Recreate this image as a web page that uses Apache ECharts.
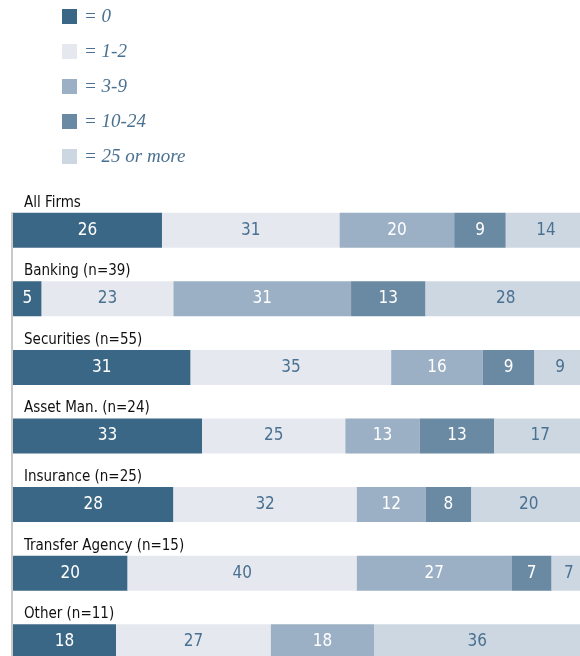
<!DOCTYPE html>
<html>
<head>
<meta charset="utf-8">
<script src="https://cdn.jsdelivr.net/npm/echarts@6/dist/echarts.min.js"></script>
<style>
  html, body { margin: 0; padding: 0; background: #ffffff; }
  #chart { width: 580px; height: 656px; }
</style>
</head>
<body>
<div id="chart"></div>
<script>
// Share of firms (%) by number of reported items, per sector
const categories = [
  'All Firms',
  'Banking (n=39)',
  'Securities (n=55)',
  'Asset Man. (n=24)',
  'Insurance (n=25)',
  'Transfer Agency (n=15)',
  'Other (n=11)'
];
const bucketNames = ['0', '1-2', '3-9', '10-24', '25 or more'];

const bucket0      = [26, 5, 31, 33, 28, 20, 18];
const bucket1to2   = [31, 23, 35, 25, 32, 40, 27];
const bucket3to9   = [20, 31, 16, 13, 12, 27, 18];
const bucket10to24 = [9, 13, 9, 13, 8, 7, null];
const bucket25plus = [14, 28, 9, 17, 20, 7, 36];

const seriesValues = [bucket0, bucket1to2, bucket3to9, bucket10to24, bucket25plus];
const fillColors  = ['#3b6786', '#e5e9ef', '#9cb0c5', '#6a8aa3', '#cdd7e2'];
const labelColors = ['#ffffff', '#4a7191', '#ffffff', '#ffffff', '#4a7191'];

const narrowFont = "'Liberation Sans Narrow', 'DejaVu Sans Condensed', sans-serif";

const chart = echarts.init(document.getElementById('chart'), null, { renderer: 'canvas' });

const series = seriesValues.map((vals, i) => ({
  name: bucketNames[i],
  type: 'bar',
  stack: 'total',
  barWidth: 35,
  xAxisIndex: 0,
  yAxisIndex: 0,
  data: vals,
  itemStyle: { color: fillColors[i] },
  label: {
    show: true,
    position: 'inside',
    color: labelColors[i],
    fontFamily: narrowFont,
    fontSize: 17,
    formatter: p => (p.value == null ? '' : String(p.value))
  },
  emphasis: { disabled: true }
}));

chart.setOption({
  animation: false,
  color: fillColors,
  legend: {
    orient: 'vertical',
    left: 62,
    top: 7,
    padding: 0,
    itemWidth: 15,
    itemHeight: 15,
    itemGap: 16,
    icon: 'rect',
    data: bucketNames,
    formatter: name => '= ' + name,
    textStyle: {
      fontFamily: "'Liberation Serif', 'DejaVu Serif', serif",
      fontStyle: 'italic',
      fontSize: 19,
      color: '#4a7191',
      padding: [0, 0, 0, 2]
    },
    selectedMode: false
  },
  grid: [
    { left: 13, width: 573, top: 196, height: 480, outerBoundsMode: 'none', containLabel: false },
    { left: 12, width: 1, top: 213, height: 460, outerBoundsMode: 'none', containLabel: false }
  ],
  xAxis: [
    { type: 'value', gridIndex: 0, min: 0, max: 100, show: false },
    { type: 'value', gridIndex: 1, show: false }
  ],
  yAxis: [
    {
      type: 'category',
      gridIndex: 0,
      inverse: true,
      data: categories,
      axisLine: { show: false },
      axisTick: { show: false },
      splitLine: { show: false },
      axisLabel: {
        inside: true,
        margin: 11,
        align: 'left',
        verticalAlign: 'bottom',
        padding: [0, 0, 20, 0],
        color: '#111111',
        fontFamily: narrowFont,
        fontSize: 15
      }
    },
    {
      type: 'value',
      gridIndex: 1,
      axisLine: { show: true, onZero: false, lineStyle: { color: '#c9c9c9', width: 2 } },
      axisTick: { show: false },
      axisLabel: { show: false },
      splitLine: { show: false }
    }
  ],
  series: series
});
</script>
</body>
</html>
